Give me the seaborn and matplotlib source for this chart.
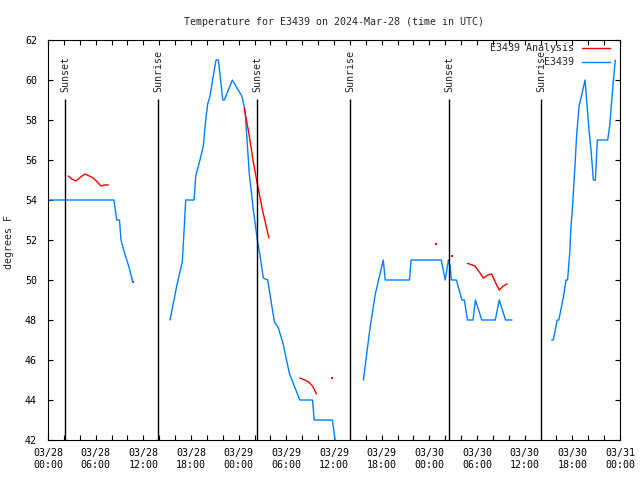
import pandas as pd
import numpy as np
import matplotlib
matplotlib.use('Agg')
import matplotlib.pyplot as plt
import matplotlib.dates as mdates
import seaborn as sns

# hours after 2024-03-28 00:00 UTC, temperatures in degrees F
START = pd.Timestamp('2024-03-28 00:00')

obs_hours_1 = [0.0, 8.3, 8.65, 9.0, 9.19, 9.6, 10.0, 10.3, 10.66]
obs_temps_1 = [54.0, 54.0, 53.0, 53.0, 52.0, 51.4, 50.9, 50.5, 49.9]

obs_hours_2 = [15.36, 16.2, 16.9, 17.16, 17.33, 18.38, 18.6, 19.13, 19.55, 19.85,
               20.1, 20.4, 20.8, 21.15, 21.45, 22.0, 22.2, 22.7, 23.2, 23.8,
               24.4, 24.8, 25.34, 25.85, 26.35, 26.7, 27.1, 27.65, 28.5, 29.0,
               29.6, 30.4, 30.7, 31.7, 33.3, 33.5, 35.8, 36.3]
obs_temps_2 = [48.0, 49.7, 50.9, 52.7, 54.0, 54.0, 55.2, 56.0, 56.7, 58.0,
               58.8, 59.2, 60.2, 61.0, 61.0, 59.0, 59.0, 59.5, 60.0, 59.6,
               59.2, 58.5, 55.3, 53.5, 52.0, 51.2, 50.1, 50.0, 47.9, 47.6,
               46.8, 45.3, 45.0, 44.0, 44.0, 43.0, 43.0, 41.5]

obs_hours_3 = [39.7, 40.5, 41.2, 42.2, 42.45, 45.5, 45.7, 49.5, 50.0, 50.4,
               50.6, 50.8, 51.4, 52.1, 52.4, 52.8, 53.5, 53.8, 54.6, 56.3,
               56.8, 57.6, 58.4]
obs_temps_3 = [45.0, 47.5, 49.3, 51.0, 50.0, 50.0, 51.0, 51.0, 50.0, 51.0,
               50.7, 50.0, 50.0, 49.0, 49.0, 48.0, 48.0, 49.0, 48.0, 48.0,
               49.0, 48.0, 48.0]

obs_hours_4 = [63.4, 63.6, 64.1, 64.3, 64.9, 65.2, 65.4, 65.7, 65.8, 66.0,
               66.3, 66.55, 66.85, 67.2, 67.6, 67.8, 68.1, 68.35, 68.65, 68.9,
               69.15, 70.45, 70.7, 71.0, 71.4]
obs_temps_4 = [47.0, 47.0, 48.0, 48.0, 49.2, 50.0, 50.0, 51.5, 52.5, 53.5,
               55.5, 57.3, 58.7, 59.3, 60.0, 59.0, 57.5, 56.5, 55.0, 55.0,
               57.0, 57.0, 57.7, 59.2, 61.0]

ana_hours_1 = [2.56, 3.0, 3.52, 4.1, 4.66, 5.2, 5.7, 6.2, 6.67, 7.1, 7.6]
ana_temps_1 = [55.2, 55.05, 54.95, 55.15, 55.3, 55.2, 55.1, 54.9, 54.7, 54.75, 54.75]

ana_hours_2 = [24.7, 25.3, 25.8, 26.35, 27.0, 27.8]
ana_temps_2 = [58.6, 57.3, 56.0, 54.8, 53.5, 52.1]

ana_hours_3 = [31.7, 32.3, 32.8, 33.3, 33.8]
ana_temps_3 = [45.1, 45.0, 44.9, 44.7, 44.3]

ana_hours_4 = [52.8, 53.75, 54.3, 54.8, 55.4, 55.85, 56.3, 56.8, 57.3, 57.8]
ana_temps_4 = [50.83, 50.7, 50.4, 50.1, 50.25, 50.3, 49.9, 49.5, 49.7, 49.8]

ana_dot_hours = [10.66, 35.8, 48.8, 50.8]
ana_dot_temps = [49.9, 45.1, 51.8, 51.2]

sun_hours = [2.18, 13.89, 26.35, 38.06, 50.52, 62.1]
sun_labels = ['Sunset', 'Sunrise', 'Sunset', 'Sunrise', 'Sunset', 'Sunrise']

RED = '#ff0000'
BLUE = '#0080ff'


def to_time(hours):
    return START + pd.to_timedelta(hours, unit='h')


sns.set_theme(style='white')
plt.rcParams['font.family'] = ['DejaVu Sans Mono']
plt.rcParams['font.size'] = 7.2

fig = plt.figure(figsize=(6.4, 4.8), dpi=100)
ax = fig.add_axes([48 / 640, 40 / 480, 572 / 640, 400 / 480])

for hrs, temps in [(obs_hours_1, obs_temps_1), (obs_hours_2, obs_temps_2),
                   (obs_hours_3, obs_temps_3), (obs_hours_4, obs_temps_4)]:
    sns.lineplot(x=to_time(hrs), y=temps, ax=ax, color=BLUE, linewidth=1.0,
                 estimator=None, sort=False)

for hrs, temps in [(ana_hours_1, ana_temps_1), (ana_hours_2, ana_temps_2),
                   (ana_hours_3, ana_temps_3), (ana_hours_4, ana_temps_4)]:
    sns.lineplot(x=to_time(hrs), y=temps, ax=ax, color=RED, linewidth=1.0,
                 estimator=None, sort=False)

sns.scatterplot(x=to_time(ana_dot_hours), y=ana_dot_temps, ax=ax, color=RED,
                marker='s', s=1.5, linewidth=0)

# sunrise / sunset markers
sun_times = to_time(sun_hours)
ax.vlines(sun_times, 42, 59.05, color='black', linewidth=1.0)
for t, lab in zip(sun_times, sun_labels):
    ax.text(t, 59.4, lab, rotation=90, ha='center', va='bottom', fontsize=7.2)

ax.set_xlim(to_time([0.0])[0], to_time([72.0])[0])
ax.set_ylim(42, 62)
ax.set_yticks(np.arange(42, 63, 2))

ax.xaxis.set_major_locator(mdates.HourLocator(byhour=[0, 6, 12, 18]))
ax.xaxis.set_minor_locator(mdates.HourLocator(byhour=range(0, 24, 2)))
ax.xaxis.set_major_formatter(mdates.DateFormatter('%m/%d\n%H:%M'))

ax.tick_params(axis='both', which='both', direction='in', length=3.5, width=0.8,
               top=True, right=True, bottom=True, left=True, color='black',
               labelsize=7.2, labelcolor='black')
ax.tick_params(axis='x', which='major', pad=6)
ax.tick_params(axis='y', which='major', pad=8)

for sp in ax.spines.values():
    sp.set_color('black')
    sp.set_linewidth(0.8)

ax.set_xlabel('')
ax.set_ylabel('degrees F', fontsize=7.2)
ax.yaxis.set_label_coords(-34 / 572, 0.495)
ax.set_title('Temperature for E3439 on 2024-Mar-28 (time in UTC)', fontsize=7.2, pad=11)

# gnuplot-style key: text right-aligned, sample line to the right
key = [('E3439 Analysis', RED, 0.98), ('E3439', BLUE, 0.945)]
for label, col, ky in key:
    ax.text(0.9196, ky, label, transform=ax.transAxes, ha='right', va='center', fontsize=7.2)
    ax.plot([0.9336, 0.9825], [ky, ky], transform=ax.transAxes, color=col, linewidth=1.0)

fig.savefig('out.png', dpi=100)
